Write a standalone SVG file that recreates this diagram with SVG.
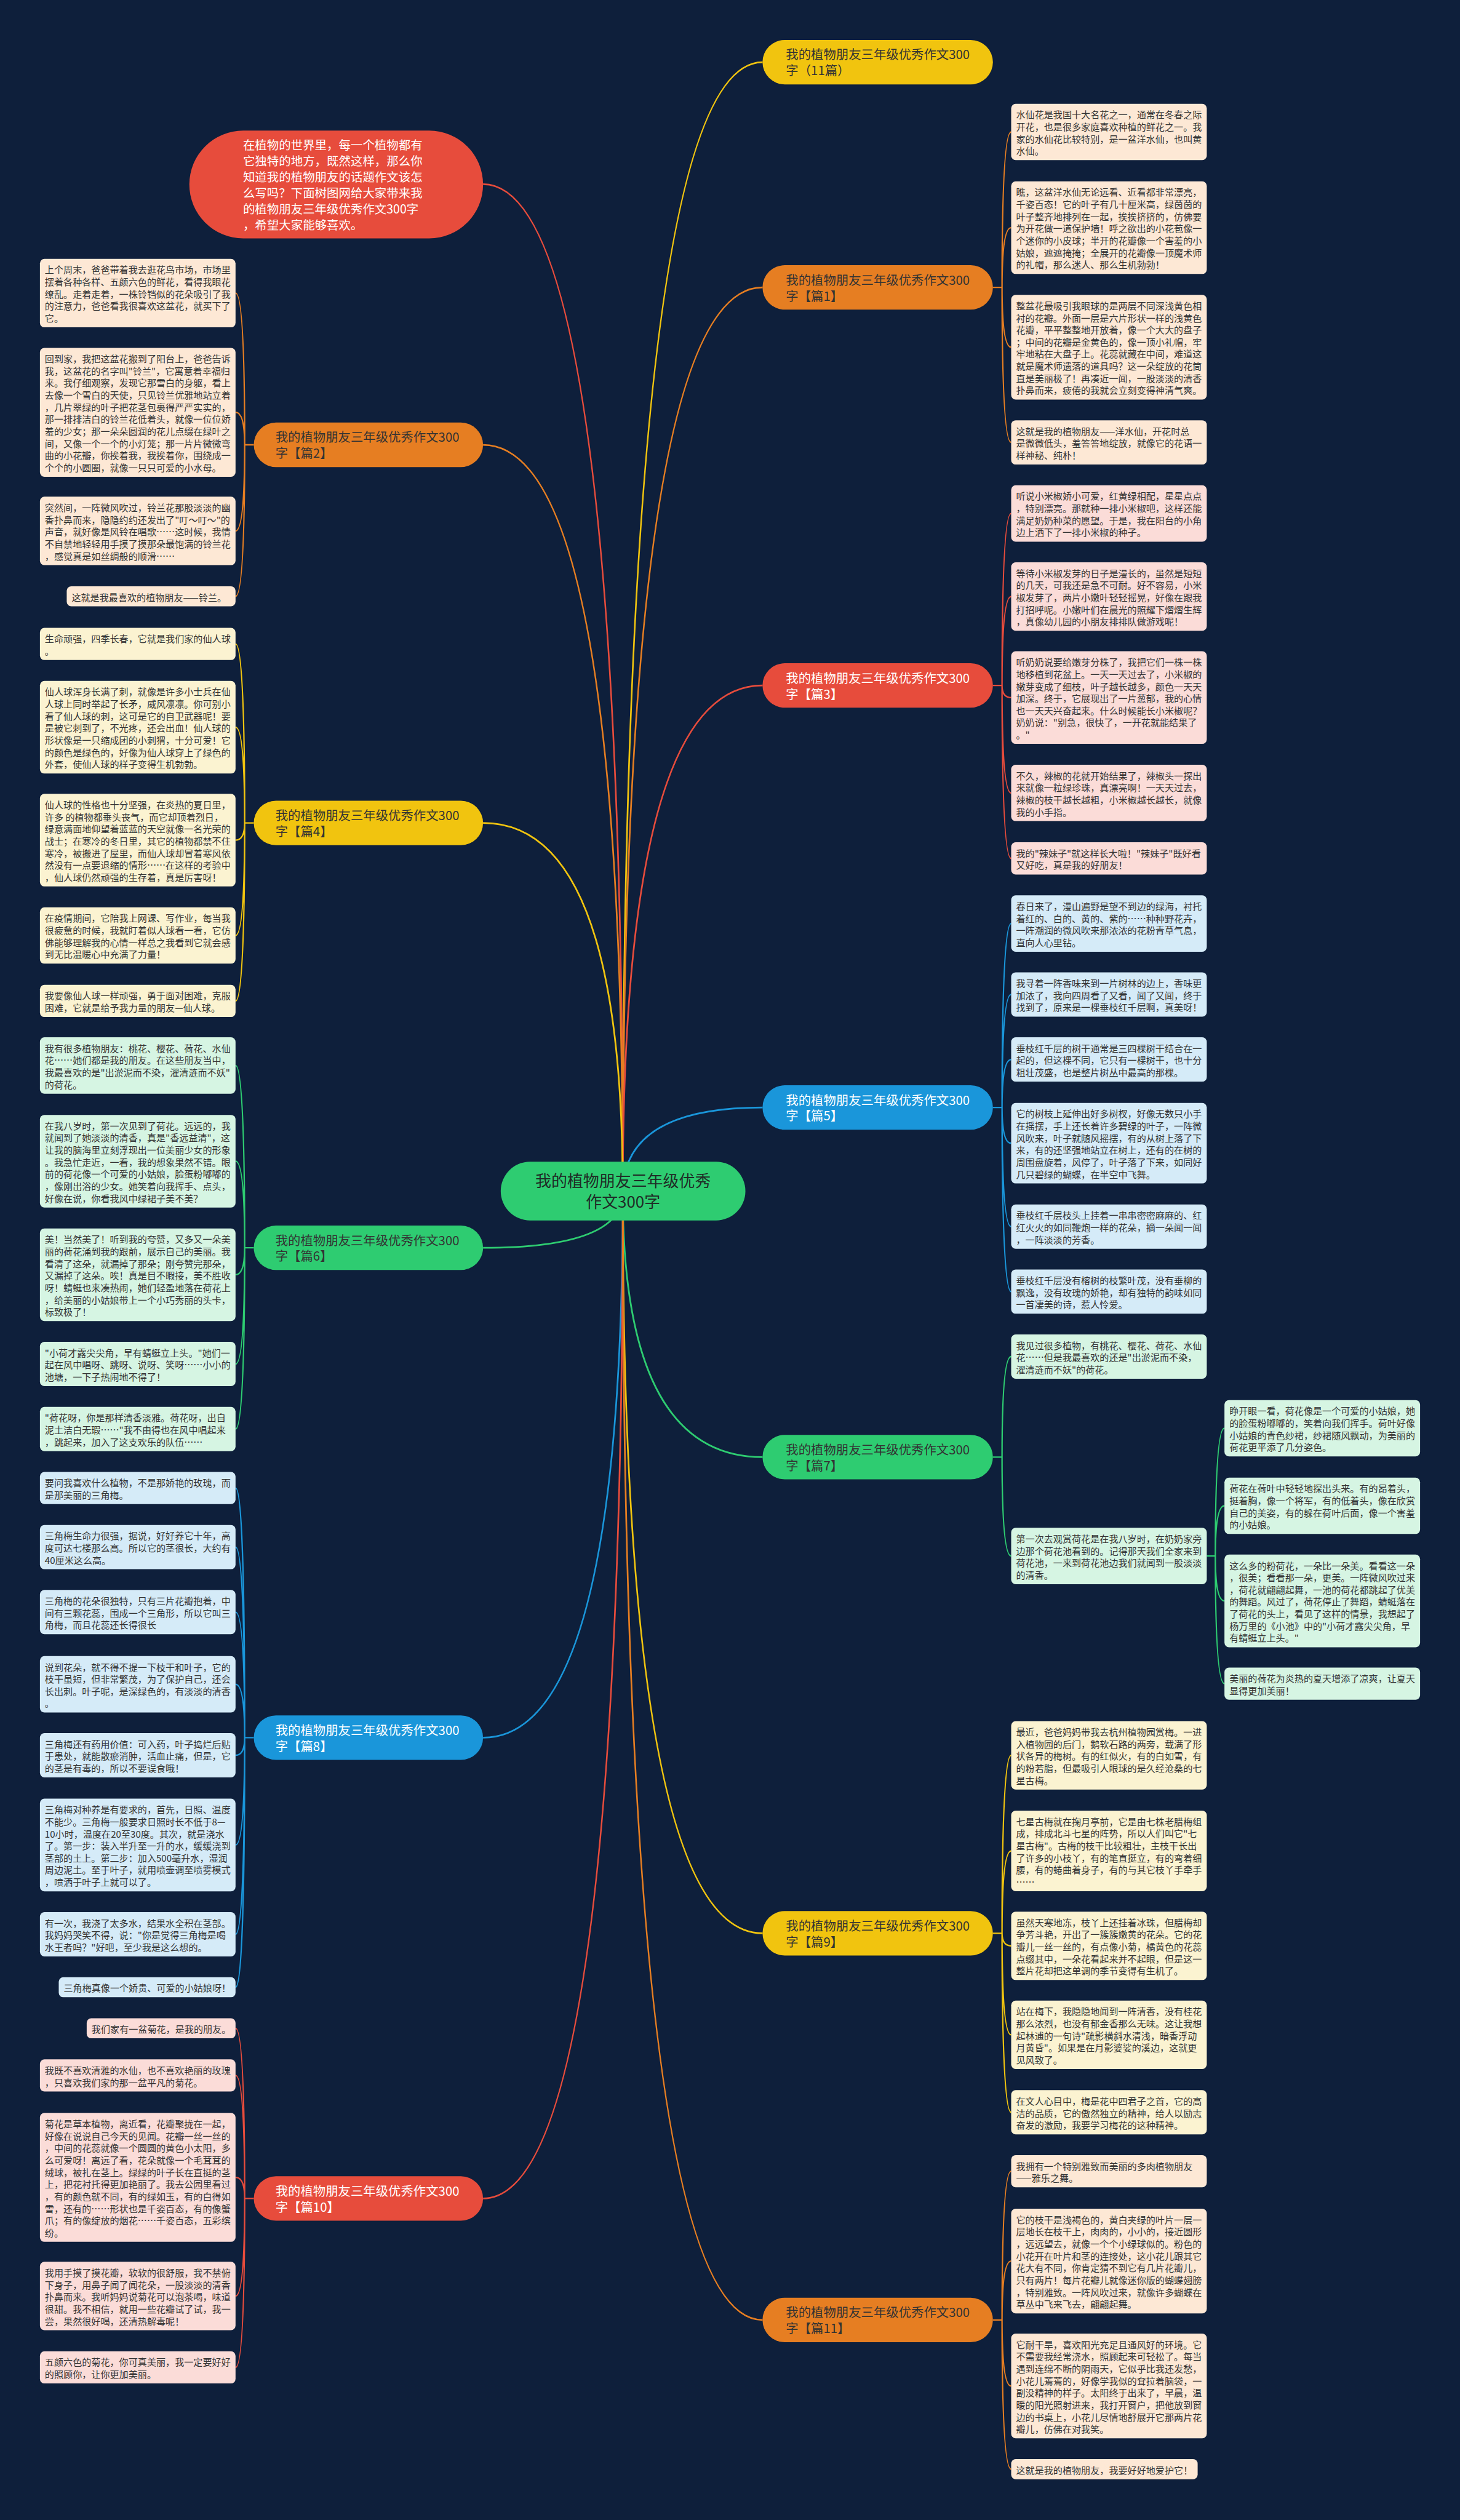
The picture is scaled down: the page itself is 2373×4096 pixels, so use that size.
<svg xmlns="http://www.w3.org/2000/svg" width="2373" height="4096" viewBox="0 0 2373 4096">
<style>
.t{font-family:"Noto Sans CJK SC","Noto Sans",sans-serif;font-size:16.3px;fill:#333}
.bt{font-family:"Noto Sans CJK SC","Noto Sans",sans-serif;font-size:22px}
.dk{fill:#333}
.wt{fill:#fff}
.c{fill:none;stroke-width:3}
.s{fill:none;stroke-width:2.5}
.Y{stroke:#f1c40f}.O{stroke:#e67e22}.R{stroke:#e74c3c}.B{stroke:#1a96da}.G{stroke:#2ecc71}
.fo{fill:#fde8d5}.fy{fill:#fbf3d1}.fr{fill:#fbdcd8}.fb{fill:#d5ebf8}.fg{fill:#d6f5e3}
.nY{fill:#f1c40f}.nO{fill:#e67e22}.nR{fill:#e74c3c}.nB{fill:#1a96da}.nG{fill:#2ecc71}
</style>
<rect width="2373" height="4096" fill="#0e1f3b"/>
<g transform="scale(0.92695)">
<g id="connectors">
<path class="c R" d="M1092 2092Q1092 323 847 323"/>
<path class="c Y" d="M1092 2092Q1092 109 1337 109"/>
<path class="c O" d="M1092 2092Q1092 504 1337 504"/>
<path class="c O" d="M1092 2092Q1092 780 847 780"/>
<path class="c R" d="M1092 2092Q1092 1202 1337 1202"/>
<path class="c Y" d="M1092 2092Q1092 1443 847 1443"/>
<path class="c B" d="M1092 2092Q1092 1942 1337 1942"/>
<path class="c G" d="M1092 2092Q1092 2188 847 2188"/>
<path class="c G" d="M1092 2092Q1092 2555 1337 2555"/>
<path class="c B" d="M1092 2092Q1092 3047 847 3047"/>
<path class="c Y" d="M1092 2092Q1092 3390 1337 3390"/>
<path class="c R" d="M1092 2092Q1092 3855 847 3855"/>
<path class="c O" d="M1092 2092Q1092 4068 1337 4068"/>
<path class="s O" d="M1741 504H1757M1757 504Q1757 231.4 1773 231.4M1757 504Q1757 399.2 1773 399.2M1757 504Q1757 608.8 1773 608.8M1757 504Q1757 775.8 1773 775.8"/>
<path class="s R" d="M1741 1202H1757M1757 1202Q1757 900.4 1773 900.4M1757 1202Q1757 1046 1773 1046M1757 1202Q1757 1223.2 1773 1223.2M1757 1202Q1757 1390.4 1773 1390.4M1757 1202Q1757 1505.2 1773 1505.2"/>
<path class="s B" d="M1741 1942H1757M1757 1942Q1757 1619.4 1773 1619.4M1757 1942Q1757 1743.8 1773 1743.8M1757 1942Q1757 1857.8 1773 1857.8M1757 1942Q1757 2004.6 1773 2004.6M1757 1942Q1757 2150.8 1773 2150.8M1757 1942Q1757 2264.8 1773 2264.8"/>
<path class="s G" d="M1741 2555H1757M1757 2555Q1757 2378.8 1773 2378.8M1757 2555Q1757 2728.4 1773 2728.4M2116 2728.4H2131M2131 2728.4Q2131 2504.4 2147 2504.4M2131 2728.4Q2131 2640.4 2147 2640.4M2131 2728.4Q2131 2807.2 2147 2807.2M2131 2728.4Q2131 2952.2 2147 2952.2"/>
<path class="s Y" d="M1741 3390H1757M1757 3390Q1757 3078 1773 3078M1757 3390Q1757 3245.6 1773 3245.6M1757 3390Q1757 3412 1773 3412M1757 3390Q1757 3568 1773 3568M1757 3390Q1757 3703.8 1773 3703.8"/>
<path class="s O" d="M1741 4068H1757M1757 4068Q1757 3807.2 1773 3807.2M1757 4068Q1757 3964.8 1773 3964.8M1757 4068Q1757 4183.8 1773 4183.8M1757 4068Q1757 4329.6 1773 4329.6"/>
<path class="s O" d="M445 780H429M429 780Q429 514 413 514M429 780Q429 723 413 723M429 780Q429 931 413 931M429 780Q429 1045.6 413 1045.6"/>
<path class="s Y" d="M445 1443H429M429 1443Q429 1129.2 413 1129.2M429 1443Q429 1275.2 413 1275.2M429 1443Q429 1473.2 413 1473.2M429 1443Q429 1640.4 413 1640.4M429 1443Q429 1755.2 413 1755.2"/>
<path class="s G" d="M445 2188H429M429 2188Q429 1868.4 413 1868.4M429 2188Q429 2036.2 413 2036.2M429 2188Q429 2235.2 413 2235.2M429 2188Q429 2391.8 413 2391.8M429 2188Q429 2505.8 413 2505.8"/>
<path class="s B" d="M445 3047H429M429 3047Q429 2609.2 413 2609.2M429 3047Q429 2712.8 413 2712.8M429 3047Q429 2826.8 413 2826.8M429 3047Q429 2953.4 413 2953.4M429 3047Q429 3077.8 413 3077.8M429 3047Q429 3235.2 413 3235.2M429 3047Q429 3391.8 413 3391.8M429 3047Q429 3484.6 413 3484.6"/>
<path class="s R" d="M445 3855H429M429 3855Q429 3556.6 413 3556.6M429 3855Q429 3639.2 413 3639.2M429 3855Q429 3818 413 3818M429 3855Q429 4026 413 4026M429 3855Q429 4151.2 413 4151.2"/>
</g>

<g id="center"><rect class="nG" x="878" y="2037" width="429" height="103" rx="51.5"/><text x="1092.5" y="2080.6" text-anchor="middle" style="font-family:'Noto Sans CJK SC',sans-serif;font-size:28px;fill:#1f2b26">我的植物朋友三年级优秀<tspan x="1092.5" dy="37">作文300字</tspan></text></g>

<g id="intro"><rect class="nR" x="332" y="229" width="515" height="189" rx="94.5"/><text x="426" y="262.4" style="font-family:'Noto Sans CJK SC',sans-serif;font-size:21px;fill:#fff">在植物的世界里，每一个植物都有<tspan x="426" dy="28.06">它独特的地方，既然这样，那么你</tspan><tspan x="426" dy="28.06">知道我的植物朋友的话题作文该怎</tspan><tspan x="426" dy="28.06">么写吗？下面树图网给大家带来我</tspan><tspan x="426" dy="28.06">的植物朋友三年级优秀作文300字</tspan><tspan x="426" dy="28.06">，希望大家能够喜欢。</tspan></text></g>

<g id="b-title"><rect class="nY" x="1337" y="70" width="404" height="78" rx="39"/><text class="bt dk" x="1378" y="104">我的植物朋友三年级优秀作文300<tspan x="1378" dy="28">字（11篇）</tspan></text></g>
<g id="b1"><rect class="nO" x="1337" y="465" width="404" height="78" rx="39"/><text class="bt dk" x="1378" y="499">我的植物朋友三年级优秀作文300<tspan x="1378" dy="28">字【篇1】</tspan></text></g>
<g id="b3"><rect class="nR" x="1337" y="1163" width="404" height="78" rx="39"/><text class="bt wt" x="1378" y="1197">我的植物朋友三年级优秀作文300<tspan x="1378" dy="28">字【篇3】</tspan></text></g>
<g id="b5"><rect class="nB" x="1337" y="1903" width="404" height="78" rx="39"/><text class="bt wt" x="1378" y="1937">我的植物朋友三年级优秀作文300<tspan x="1378" dy="28">字【篇5】</tspan></text></g>
<g id="b7"><rect class="nG" x="1337" y="2516" width="404" height="78" rx="39"/><text class="bt dk" x="1378" y="2550">我的植物朋友三年级优秀作文300<tspan x="1378" dy="28">字【篇7】</tspan></text></g>
<g id="b9"><rect class="nY" x="1337" y="3351" width="404" height="78" rx="39"/><text class="bt dk" x="1378" y="3385">我的植物朋友三年级优秀作文300<tspan x="1378" dy="28">字【篇9】</tspan></text></g>
<g id="b11"><rect class="nO" x="1337" y="4029" width="404" height="78" rx="39"/><text class="bt dk" x="1378" y="4063">我的植物朋友三年级优秀作文300<tspan x="1378" dy="28">字【篇11】</tspan></text></g>
<g id="b2"><rect class="nO" x="445" y="741" width="402" height="78" rx="39"/><text class="bt dk" x="483" y="775">我的植物朋友三年级优秀作文300<tspan x="483" dy="28">字【篇2】</tspan></text></g>
<g id="b4"><rect class="nY" x="445" y="1404" width="402" height="78" rx="39"/><text class="bt dk" x="483" y="1438">我的植物朋友三年级优秀作文300<tspan x="483" dy="28">字【篇4】</tspan></text></g>
<g id="b6"><rect class="nG" x="445" y="2149" width="402" height="78" rx="39"/><text class="bt dk" x="483" y="2183">我的植物朋友三年级优秀作文300<tspan x="483" dy="28">字【篇6】</tspan></text></g>
<g id="b8"><rect class="nB" x="445" y="3008" width="402" height="78" rx="39"/><text class="bt wt" x="483" y="3042">我的植物朋友三年级优秀作文300<tspan x="483" dy="28">字【篇8】</tspan></text></g>
<g id="b10"><rect class="nR" x="445" y="3816" width="402" height="78" rx="39"/><text class="bt wt" x="483" y="3850">我的植物朋友三年级优秀作文300<tspan x="483" dy="28">字【篇10】</tspan></text></g>

<g id="b1-1"><rect class="fo" x="1773" y="182" width="343" height="98.8" rx="8"/><text class="t" x="1781.6" y="207.5">水仙花是我国十大名花之一，通常在冬春之际<tspan x="1781.6" dy="21.2">开花，也是很多家庭喜欢种植的鲜花之一。我</tspan><tspan x="1781.6" dy="21.2">家的水仙花比较特别，是一盆洋水仙，也叫黄</tspan><tspan x="1781.6" dy="21.2">水仙。</tspan></text></g>
<g id="b1-2"><rect class="fo" x="1773" y="318" width="343" height="162.4" rx="8"/><text class="t" x="1781.6" y="343.5">瞧，这盆洋水仙无论远看、近看都非常漂亮，<tspan x="1781.6" dy="21.2">千姿百态！它的叶子有几十厘米高，绿茵茵的</tspan><tspan x="1781.6" dy="21.2">叶子整齐地排列在一起，挨挨挤挤的，仿佛要</tspan><tspan x="1781.6" dy="21.2">为开花做一道保护墙！呼之欲出的小花苞像一</tspan><tspan x="1781.6" dy="21.2">个迷你的小皮球；半开的花瓣像一个害羞的小</tspan><tspan x="1781.6" dy="21.2">姑娘，遮遮掩掩；全展开的花瓣像一顶魔术师</tspan><tspan x="1781.6" dy="21.2">的礼帽，那么迷人、那么生机勃勃！</tspan></text></g>
<g id="b1-3"><rect class="fo" x="1773" y="517" width="343" height="183.6" rx="8"/><text class="t" x="1781.6" y="542.5">整盆花最吸引我眼球的是两层不同深浅黄色相<tspan x="1781.6" dy="21.2">衬的花瓣。外面一层是六片形状一样的浅黄色</tspan><tspan x="1781.6" dy="21.2">花瓣，平平整整地开放着，像一个大大的盘子</tspan><tspan x="1781.6" dy="21.2">；中间的花瓣是金黄色的，像一顶小礼帽，牢</tspan><tspan x="1781.6" dy="21.2">牢地粘在大盘子上。花蕊就藏在中间，难道这</tspan><tspan x="1781.6" dy="21.2">就是魔术师遗落的道具吗？这一朵绽放的花筒</tspan><tspan x="1781.6" dy="21.2">直是美丽极了！再凑近一闻，一股淡淡的清香</tspan><tspan x="1781.6" dy="21.2">扑鼻而来，疲倦的我就会立刻变得神清气爽。</tspan></text></g>
<g id="b1-4"><rect class="fo" x="1773" y="737" width="343" height="77.6" rx="8"/><text class="t" x="1781.6" y="762.5">这就是我的植物朋友——洋水仙，开花时总<tspan x="1781.6" dy="21.2">是微微低头，羞答答地绽放，就像它的花语一</tspan><tspan x="1781.6" dy="21.2">样神秘、纯朴！</tspan></text></g>

<g id="b3-1"><rect class="fr" x="1773" y="851" width="343" height="98.8" rx="8"/><text class="t" x="1781.6" y="876.5">听说小米椒娇小可爱，红黄绿相配，星星点点<tspan x="1781.6" dy="21.2">，特别漂亮。那就种一排小米椒吧，这样还能</tspan><tspan x="1781.6" dy="21.2">满足奶奶种菜的愿望。于是，我在阳台的小角</tspan><tspan x="1781.6" dy="21.2">边上洒下了一排小米椒的种子。</tspan></text></g>
<g id="b3-2"><rect class="fr" x="1773" y="986" width="343" height="120" rx="8"/><text class="t" x="1781.6" y="1011.5">等待小米椒发芽的日子是漫长的，虽然是短短<tspan x="1781.6" dy="21.2">的几天，可我还是急不可耐。好不容易，小米</tspan><tspan x="1781.6" dy="21.2">椒发芽了，两片小嫩叶轻轻摇晃，好像在跟我</tspan><tspan x="1781.6" dy="21.2">打招呼呢。小嫩叶们在晨光的照耀下熠熠生辉</tspan><tspan x="1781.6" dy="21.2">，真像幼儿园的小朋友排排队做游戏呢！</tspan></text></g>
<g id="b3-3"><rect class="fr" x="1773" y="1142" width="343" height="162.4" rx="8"/><text class="t" x="1781.6" y="1167.5">听奶奶说要给嫩芽分株了，我把它们一株一株<tspan x="1781.6" dy="21.2">地移植到花盆上。一天一天过去了，小米椒的</tspan><tspan x="1781.6" dy="21.2">嫩芽变成了细枝，叶子越长越多，颜色一天天</tspan><tspan x="1781.6" dy="21.2">加深。终于，它展现出了一片葱郁，我的心情</tspan><tspan x="1781.6" dy="21.2">也一天天兴奋起来。什么时候能长小米椒呢？</tspan><tspan x="1781.6" dy="21.2">奶奶说："别急，很快了，一开花就能结果了</tspan><tspan x="1781.6" dy="21.2">。"</tspan></text></g>
<g id="b3-4"><rect class="fr" x="1773" y="1341" width="343" height="98.8" rx="8"/><text class="t" x="1781.6" y="1366.5">不久，辣椒的花就开始结果了，辣椒头一探出<tspan x="1781.6" dy="21.2">来就像一粒绿珍珠，真漂亮啊！一天天过去，</tspan><tspan x="1781.6" dy="21.2">辣椒的枝干越长越粗，小米椒越长越长，就像</tspan><tspan x="1781.6" dy="21.2">我的小手指。</tspan></text></g>
<g id="b3-5"><rect class="fr" x="1773" y="1477" width="343" height="56.4" rx="8"/><text class="t" x="1781.6" y="1502.5">我的"辣妹子"就这样长大啦！"辣妹子"既好看<tspan x="1781.6" dy="21.2">又好吃，真是我的好朋友！</tspan></text></g>

<g id="b5-1"><rect class="fb" x="1773" y="1570" width="343" height="98.8" rx="8"/><text class="t" x="1781.6" y="1595.5">春日来了，漫山遍野是望不到边的绿海，衬托<tspan x="1781.6" dy="21.2">着红的、白的、黄的、紫的……种种野花卉，</tspan><tspan x="1781.6" dy="21.2">一阵潮润的微风吹来那浓浓的花粉青草气息，</tspan><tspan x="1781.6" dy="21.2">直向人心里钻。</tspan></text></g>
<g id="b5-2"><rect class="fb" x="1773" y="1705" width="343" height="77.6" rx="8"/><text class="t" x="1781.6" y="1730.5">我寻着一阵香味来到一片树林的边上，香味更<tspan x="1781.6" dy="21.2">加浓了，我向四周看了又看，闻了又闻，终于</tspan><tspan x="1781.6" dy="21.2">找到了，原来是一棵垂枝红千层啊，真美呀！</tspan></text></g>
<g id="b5-3"><rect class="fb" x="1773" y="1819" width="343" height="77.6" rx="8"/><text class="t" x="1781.6" y="1844.5">垂枝红千层的树干通常是三四棵树干结合在一<tspan x="1781.6" dy="21.2">起的，但这棵不同，它只有一棵树干，也十分</tspan><tspan x="1781.6" dy="21.2">粗壮茂盛，也是整片树丛中最高的那棵。</tspan></text></g>
<g id="b5-4"><rect class="fb" x="1773" y="1934" width="343" height="141.2" rx="8"/><text class="t" x="1781.6" y="1959.5">它的树枝上延伸出好多树杈，好像无数只小手<tspan x="1781.6" dy="21.2">在摇摆，手上还长着许多碧绿的叶子，一阵微</tspan><tspan x="1781.6" dy="21.2">风吹来，叶子就随风摇摆，有的从树上落了下</tspan><tspan x="1781.6" dy="21.2">来，有的还坚强地站立在树上，还有的在树的</tspan><tspan x="1781.6" dy="21.2">周围盘旋着，风停了，叶子落了下来，如同好</tspan><tspan x="1781.6" dy="21.2">几只碧绿的蝴蝶，在半空中飞舞。</tspan></text></g>
<g id="b5-5"><rect class="fb" x="1773" y="2112" width="343" height="77.6" rx="8"/><text class="t" x="1781.6" y="2137.5">垂枝红千层枝头上挂着一串串密密麻麻的、红<tspan x="1781.6" dy="21.2">红火火的如同鞭炮一样的花朵，摘一朵闻一闻</tspan><tspan x="1781.6" dy="21.2">，一阵淡淡的芳香。</tspan></text></g>
<g id="b5-6"><rect class="fb" x="1773" y="2226" width="343" height="77.6" rx="8"/><text class="t" x="1781.6" y="2251.5">垂枝红千层没有榕树的枝繁叶茂，没有垂柳的<tspan x="1781.6" dy="21.2">飘逸，没有玫瑰的娇艳，却有独特的韵味如同</tspan><tspan x="1781.6" dy="21.2">一首凄美的诗，惹人怜爱。</tspan></text></g>

<g id="b7-1"><rect class="fg" x="1773" y="2340" width="343" height="77.6" rx="8"/><text class="t" x="1781.6" y="2365.5">我见过很多植物，有桃花、樱花、荷花、水仙<tspan x="1781.6" dy="21.2">花……但是我最喜欢的还是"出淤泥而不染，</tspan><tspan x="1781.6" dy="21.2">濯清涟而不妖"的荷花。</tspan></text></g>
<g id="b7-2"><rect class="fg" x="1773" y="2679" width="343" height="98.8" rx="8"/><text class="t" x="1781.6" y="2704.5">第一次去观赏荷花是在我八岁时，在奶奶家旁<tspan x="1781.6" dy="21.2">边那个荷花池看到的。记得那天我们全家来到</tspan><tspan x="1781.6" dy="21.2">荷花池，一来到荷花池边我们就闻到一股淡淡</tspan><tspan x="1781.6" dy="21.2">的清香。</tspan></text></g>
<g id="b7-2-1"><rect class="fg" x="2147" y="2455" width="343" height="98.8" rx="8"/><text class="t" x="2155.6" y="2480.5">睁开眼一看，荷花像是一个可爱的小姑娘，她<tspan x="2155.6" dy="21.2">的脸蛋粉嘟嘟的，笑着向我们挥手。荷叶好像</tspan><tspan x="2155.6" dy="21.2">小姑娘的青色纱裙，纱裙随风飘动，为美丽的</tspan><tspan x="2155.6" dy="21.2">荷花更平添了几分姿色。</tspan></text></g>
<g id="b7-2-2"><rect class="fg" x="2147" y="2591" width="343" height="98.8" rx="8"/><text class="t" x="2155.6" y="2616.5">荷花在荷叶中轻轻地探出头来。有的昂着头，<tspan x="2155.6" dy="21.2">挺着胸，像一个将军，有的低着头，像在欣赏</tspan><tspan x="2155.6" dy="21.2">自己的美姿，有的躲在荷叶后面，像一个害羞</tspan><tspan x="2155.6" dy="21.2">的小姑娘。</tspan></text></g>
<g id="b7-2-3"><rect class="fg" x="2147" y="2726" width="343" height="162.4" rx="8"/><text class="t" x="2155.6" y="2751.5">这么多的粉荷花，一朵比一朵美。看看这一朵<tspan x="2155.6" dy="21.2">，很美；看看那一朵，更美。一阵微风吹过来</tspan><tspan x="2155.6" dy="21.2">，荷花就翩翩起舞，一池的荷花都跳起了优美</tspan><tspan x="2155.6" dy="21.2">的舞蹈。风过了，荷花停止了舞蹈，蜻蜓落在</tspan><tspan x="2155.6" dy="21.2">了荷花的头上，看见了这样的情景，我想起了</tspan><tspan x="2155.6" dy="21.2">杨万里的《小池》中的"小荷才露尖尖角，早</tspan><tspan x="2155.6" dy="21.2">有蜻蜓立上头。"</tspan></text></g>
<g id="b7-2-4"><rect class="fg" x="2147" y="2924" width="343" height="56.4" rx="8"/><text class="t" x="2155.6" y="2949.5">美丽的荷花为炎热的夏天增添了凉爽，让夏天<tspan x="2155.6" dy="21.2">显得更加美丽！</tspan></text></g>

<g id="b9-1"><rect class="fy" x="1773" y="3018" width="343" height="120" rx="8"/><text class="t" x="1781.6" y="3043.5">最近，爸爸妈妈带我去杭州植物园赏梅。一进<tspan x="1781.6" dy="21.2">入植物园的后门，鹅软石路的两旁，载满了形</tspan><tspan x="1781.6" dy="21.2">状各异的梅树。有的红似火，有的白如雪，有</tspan><tspan x="1781.6" dy="21.2">的粉若脂，但最吸引人眼球的是久经沧桑的七</tspan><tspan x="1781.6" dy="21.2">星古梅。</tspan></text></g>
<g id="b9-2"><rect class="fy" x="1773" y="3175" width="343" height="141.2" rx="8"/><text class="t" x="1781.6" y="3200.5">七星古梅就在掬月亭前，它是由七株老腊梅组<tspan x="1781.6" dy="21.2">成，排成北斗七星的阵势，所以人们叫它"七</tspan><tspan x="1781.6" dy="21.2">星古梅"。古梅的枝干比较粗壮，主枝干长出</tspan><tspan x="1781.6" dy="21.2">了许多的小枝丫，有的笔直挺立，有的弯着细</tspan><tspan x="1781.6" dy="21.2">腰，有的蜷曲着身子，有的与其它枝丫手牵手</tspan><tspan x="1781.6" dy="21.2">……</tspan></text></g>
<g id="b9-3"><rect class="fy" x="1773" y="3352" width="343" height="120" rx="8"/><text class="t" x="1781.6" y="3377.5">虽然天寒地冻，枝丫上还挂着冰珠，但腊梅却<tspan x="1781.6" dy="21.2">争芳斗艳，开出了一簇簇嫩黄的花朵。它的花</tspan><tspan x="1781.6" dy="21.2">瓣儿一丝一丝的，有点像小菊，橘黄色的花蕊</tspan><tspan x="1781.6" dy="21.2">点缀其中，一朵花看起来并不起眼，但是这一</tspan><tspan x="1781.6" dy="21.2">整片花却把这单调的季节变得有生机了。</tspan></text></g>
<g id="b9-4"><rect class="fy" x="1773" y="3508" width="343" height="120" rx="8"/><text class="t" x="1781.6" y="3533.5">站在梅下，我隐隐地闻到一阵清香，没有桂花<tspan x="1781.6" dy="21.2">那么浓烈，也没有郁金香那么无味。这让我想</tspan><tspan x="1781.6" dy="21.2">起林逋的一句诗"疏影横斜水清浅，暗香浮动</tspan><tspan x="1781.6" dy="21.2">月黄昏"。如果是在月影婆娑的溪边，这就更</tspan><tspan x="1781.6" dy="21.2">见风致了。</tspan></text></g>
<g id="b9-5"><rect class="fy" x="1773" y="3665" width="343" height="77.6" rx="8"/><text class="t" x="1781.6" y="3690.5">在文人心目中，梅是花中四君子之首，它的高<tspan x="1781.6" dy="21.2">洁的品质，它的傲然独立的精神，给人以励志</tspan><tspan x="1781.6" dy="21.2">奋发的激励，我要学习梅花的这种精神。</tspan></text></g>

<g id="b11-1"><rect class="fo" x="1773" y="3779" width="343" height="56.4" rx="8"/><text class="t" x="1781.6" y="3804.5">我拥有一个特别雅致而美丽的多肉植物朋友<tspan x="1781.6" dy="21.2">——雅乐之舞。</tspan></text></g>
<g id="b11-2"><rect class="fo" x="1773" y="3873" width="343" height="183.6" rx="8"/><text class="t" x="1781.6" y="3898.5">它的枝干是浅褐色的，黄白夹绿的叶片一层一<tspan x="1781.6" dy="21.2">层地长在枝干上，肉肉的，小小的，接近圆形</tspan><tspan x="1781.6" dy="21.2">，远远望去，就像一个个小绿球似的。粉色的</tspan><tspan x="1781.6" dy="21.2">小花开在叶片和茎的连接处，这小花儿跟其它</tspan><tspan x="1781.6" dy="21.2">花大有不同，你肯定猜不到它有几片花瓣儿，</tspan><tspan x="1781.6" dy="21.2">只有两片！每片花瓣儿就像迷你版的蝴蝶翅膀</tspan><tspan x="1781.6" dy="21.2">，特别雅致。一阵风吹过来，就像许多蝴蝶在</tspan><tspan x="1781.6" dy="21.2">草丛中飞来飞去，翩翩起舞。</tspan></text></g>
<g id="b11-3"><rect class="fo" x="1773" y="4092" width="343" height="183.6" rx="8"/><text class="t" x="1781.6" y="4117.5">它耐干旱，喜欢阳光充足且通风好的环境。它<tspan x="1781.6" dy="21.2">不需要我经常浇水，照顾起来可轻松了。每当</tspan><tspan x="1781.6" dy="21.2">遇到连绵不断的阴雨天，它似乎比我还发愁，</tspan><tspan x="1781.6" dy="21.2">小花儿蔫蔫的，好像学我似的耷拉着脑袋，一</tspan><tspan x="1781.6" dy="21.2">副没精神的样子。太阳终于出来了，早晨，温</tspan><tspan x="1781.6" dy="21.2">暖的阳光照射进来，我打开窗户，把他放到窗</tspan><tspan x="1781.6" dy="21.2">边的书桌上，小花儿尽情地舒展开它那两片花</tspan><tspan x="1781.6" dy="21.2">瓣儿，仿佛在对我笑。</tspan></text></g>
<g id="b11-4"><rect class="fo" x="1773" y="4312" width="327" height="35.2" rx="8"/><text class="t" x="1781.6" y="4337.5">这就是我的植物朋友，我要好好地爱护它！</text></g>

<g id="b2-1"><rect class="fo" x="70" y="454" width="343" height="120" rx="8"/><text class="t" x="78.6" y="479.5">上个周末，爸爸带着我去逛花鸟市场，市场里<tspan x="78.6" dy="21.2">摆着各种各样、五颜六色的鲜花，看得我眼花</tspan><tspan x="78.6" dy="21.2">缭乱。走着走着，一株铃铛似的花朵吸引了我</tspan><tspan x="78.6" dy="21.2">的注意力，爸爸看我很喜欢这盆花，就买下了</tspan><tspan x="78.6" dy="21.2">它。</tspan></text></g>
<g id="b2-2"><rect class="fo" x="70" y="610" width="343" height="226" rx="8"/><text class="t" x="78.6" y="635.5">回到家，我把这盆花搬到了阳台上，爸爸告诉<tspan x="78.6" dy="21.2">我，这盆花的名字叫"铃兰"，它寓意着幸福归</tspan><tspan x="78.6" dy="21.2">来。我仔细观察，发现它那雪白的身躯，看上</tspan><tspan x="78.6" dy="21.2">去像一个雪白的天使，只见铃兰优雅地站立着</tspan><tspan x="78.6" dy="21.2">，几片翠绿的叶子把花茎包裹得严严实实的，</tspan><tspan x="78.6" dy="21.2">那一排排洁白的铃兰花低着头，就像一位位娇</tspan><tspan x="78.6" dy="21.2">羞的少女；那一朵朵圆润的花儿点缀在绿叶之</tspan><tspan x="78.6" dy="21.2">间，又像一个一个的小灯笼；那一片片微微弯</tspan><tspan x="78.6" dy="21.2">曲的小花瓣，你挨着我，我挨着你，围绕成一</tspan><tspan x="78.6" dy="21.2">个个的小圆圈，就像一只只可爱的小水母。</tspan></text></g>
<g id="b2-3"><rect class="fo" x="70" y="871" width="343" height="120" rx="8"/><text class="t" x="78.6" y="896.5">突然间，一阵微风吹过，铃兰花那股淡淡的幽<tspan x="78.6" dy="21.2">香扑鼻而来，隐隐约约还发出了"叮～叮～"的</tspan><tspan x="78.6" dy="21.2">声音，就好像是风铃在唱歌……这时候，我情</tspan><tspan x="78.6" dy="21.2">不自禁地轻轻用手摸了摸那朵最饱满的铃兰花</tspan><tspan x="78.6" dy="21.2">，感觉真是如丝绸般的顺滑……</tspan></text></g>
<g id="b2-4"><rect class="fo" x="117" y="1028" width="296" height="35.2" rx="8"/><text class="t" x="125.6" y="1053.5">这就是我最喜欢的植物朋友——铃兰。</text></g>

<g id="b4-1"><rect class="fy" x="70" y="1101" width="343" height="56.4" rx="8"/><text class="t" x="78.6" y="1126.5">生命顽强，四季长春，它就是我们家的仙人球<tspan x="78.6" dy="21.2">。</tspan></text></g>
<g id="b4-2"><rect class="fy" x="70" y="1194" width="343" height="162.4" rx="8"/><text class="t" x="78.6" y="1219.5">仙人球浑身长满了刺，就像是许多小士兵在仙<tspan x="78.6" dy="21.2">人球上同时举起了长矛，威风凛凛。你可别小</tspan><tspan x="78.6" dy="21.2">看了仙人球的刺，这可是它的自卫武器呢！要</tspan><tspan x="78.6" dy="21.2">是被它刺到了，不光疼，还会出血！仙人球的</tspan><tspan x="78.6" dy="21.2">形状像是一只缩成团的小刺猬，十分可爱！它</tspan><tspan x="78.6" dy="21.2">的颜色是绿色的，好像为仙人球穿上了绿色的</tspan><tspan x="78.6" dy="21.2">外套，使仙人球的样子变得生机勃勃。</tspan></text></g>
<g id="b4-3"><rect class="fy" x="70" y="1392" width="343" height="162.4" rx="8"/><text class="t" x="78.6" y="1417.5">仙人球的性格也十分坚强，在炎热的夏日里，<tspan x="78.6" dy="21.2">许多 的植物都垂头丧气，而它却顶着烈日，</tspan><tspan x="78.6" dy="21.2">绿意满面地仰望着蓝蓝的天空就像一名光荣的</tspan><tspan x="78.6" dy="21.2">战士；在寒冷的冬日里，其它的植物都禁不住</tspan><tspan x="78.6" dy="21.2">寒冷，被搬进了屋里，而仙人球却冒着寒风依</tspan><tspan x="78.6" dy="21.2">然没有一点要退缩的情形……在这样的考验中</tspan><tspan x="78.6" dy="21.2">，仙人球仍然顽强的生存着，真是厉害呀！</tspan></text></g>
<g id="b4-4"><rect class="fy" x="70" y="1591" width="343" height="98.8" rx="8"/><text class="t" x="78.6" y="1616.5">在疫情期间，它陪我上网课、写作业，每当我<tspan x="78.6" dy="21.2">很疲惫的时候，我就盯着似人球看一看，它仿</tspan><tspan x="78.6" dy="21.2">佛能够理解我的心情一样总之我看到它就会感</tspan><tspan x="78.6" dy="21.2">到无比温暖心中充满了力量！</tspan></text></g>
<g id="b4-5"><rect class="fy" x="70" y="1727" width="343" height="56.4" rx="8"/><text class="t" x="78.6" y="1752.5">我要像仙人球一样顽强，勇于面对困难，克服<tspan x="78.6" dy="21.2">困难，它就是给予我力量的朋友—仙人球。</tspan></text></g>

<g id="b6-1"><rect class="fg" x="70" y="1819" width="343" height="98.8" rx="8"/><text class="t" x="78.6" y="1844.5">我有很多植物朋友：桃花、樱花、荷花、水仙<tspan x="78.6" dy="21.2">花……她们都是我的朋友。在这些朋友当中，</tspan><tspan x="78.6" dy="21.2">我最喜欢的是"出淤泥而不染，濯清涟而不妖"</tspan><tspan x="78.6" dy="21.2">的荷花。</tspan></text></g>
<g id="b6-2"><rect class="fg" x="70" y="1955" width="343" height="162.4" rx="8"/><text class="t" x="78.6" y="1980.5">在我八岁时，第一次见到了荷花。远远的，我<tspan x="78.6" dy="21.2">就闻到了她淡淡的清香，真是"香远益清"，这</tspan><tspan x="78.6" dy="21.2">让我的脑海里立刻浮现出一位美丽少女的形象</tspan><tspan x="78.6" dy="21.2">。我急忙走近，一看，我的想象果然不错。眼</tspan><tspan x="78.6" dy="21.2">前的荷花像一个可爱的小姑娘，脸蛋粉嘟嘟的</tspan><tspan x="78.6" dy="21.2">，像刚出浴的少女。她笑着向我挥手、点头，</tspan><tspan x="78.6" dy="21.2">好像在说，你看我风中绿裙子美不美？</tspan></text></g>
<g id="b6-3"><rect class="fg" x="70" y="2154" width="343" height="162.4" rx="8"/><text class="t" x="78.6" y="2179.5">美！当然美了！听到我的夸赞，又多又一朵美<tspan x="78.6" dy="21.2">丽的荷花涌到我的跟前，展示自己的美丽。我</tspan><tspan x="78.6" dy="21.2">看清了这朵，就漏掉了那朵；刚夸赞完那朵，</tspan><tspan x="78.6" dy="21.2">又漏掉了这朵。唉！真是目不暇接，美不胜收</tspan><tspan x="78.6" dy="21.2">呀！蜻蜓也来凑热闹，她们轻盈地落在荷花上</tspan><tspan x="78.6" dy="21.2">，给美丽的小姑娘带上一个小巧秀丽的头卡，</tspan><tspan x="78.6" dy="21.2">标致极了！</tspan></text></g>
<g id="b6-4"><rect class="fg" x="70" y="2353" width="343" height="77.6" rx="8"/><text class="t" x="78.6" y="2378.5">"小荷才露尖尖角，早有蜻蜓立上头。"她们一<tspan x="78.6" dy="21.2">起在风中唱呀、跳呀、说呀、笑呀……小小的</tspan><tspan x="78.6" dy="21.2">池塘，一下子热闹地不得了！</tspan></text></g>
<g id="b6-5"><rect class="fg" x="70" y="2467" width="343" height="77.6" rx="8"/><text class="t" x="78.6" y="2492.5">"荷花呀，你是那样清香淡雅。荷花呀，出自<tspan x="78.6" dy="21.2">泥土洁白无瑕……"我不由得也在风中唱起来</tspan><tspan x="78.6" dy="21.2">，跳起来，加入了这支欢乐的队伍……</tspan></text></g>

<g id="b8-1"><rect class="fb" x="70" y="2581" width="343" height="56.4" rx="8"/><text class="t" x="78.6" y="2606.5">要问我喜欢什么植物，不是那娇艳的玫瑰，而<tspan x="78.6" dy="21.2">是那美丽的三角梅。</tspan></text></g>
<g id="b8-2"><rect class="fb" x="70" y="2674" width="343" height="77.6" rx="8"/><text class="t" x="78.6" y="2699.5">三角梅生命力很强，据说，好好养它十年，高<tspan x="78.6" dy="21.2">度可达七楼那么高。所以它的茎很长，大约有</tspan><tspan x="78.6" dy="21.2">40厘米这么高。</tspan></text></g>
<g id="b8-3"><rect class="fb" x="70" y="2788" width="343" height="77.6" rx="8"/><text class="t" x="78.6" y="2813.5">三角梅的花朵很独特，只有三片花瓣抱着，中<tspan x="78.6" dy="21.2">间有三颗花蕊，围成一个三角形，所以它叫三</tspan><tspan x="78.6" dy="21.2">角梅，而且花蕊还长得很长</tspan></text></g>
<g id="b8-4"><rect class="fb" x="70" y="2904" width="343" height="98.8" rx="8"/><text class="t" x="78.6" y="2929.5">说到花朵，就不得不提一下枝干和叶子，它的<tspan x="78.6" dy="21.2">枝干虽短，但非常繁茂，为了保护自己，还会</tspan><tspan x="78.6" dy="21.2">长出刺。叶子呢，是深绿色的，有淡淡的清香</tspan><tspan x="78.6" dy="21.2">。</tspan></text></g>
<g id="b8-5"><rect class="fb" x="70" y="3039" width="343" height="77.6" rx="8"/><text class="t" x="78.6" y="3064.5">三角梅还有药用价值：可入药，叶子捣烂后贴<tspan x="78.6" dy="21.2">于患处，就能散瘀消肿，活血止痛，但是，它</tspan><tspan x="78.6" dy="21.2">的茎是有毒的，所以不要误食哦！</tspan></text></g>
<g id="b8-6"><rect class="fb" x="70" y="3154" width="343" height="162.4" rx="8"/><text class="t" x="78.6" y="3179.5">三角梅对种养是有要求的，首先，日照、温度<tspan x="78.6" dy="21.2">不能少。三角梅一般要求日照时长不低于8—</tspan><tspan x="78.6" dy="21.2">10小时，温度在20至30度。其次，就是浇水</tspan><tspan x="78.6" dy="21.2">了。第一步：装入半升至一升的水，缓缓浇到</tspan><tspan x="78.6" dy="21.2">茎部的土上。第二步：加入500毫升水，湿润</tspan><tspan x="78.6" dy="21.2">周边泥土。至于叶子，就用喷壶调至喷雾模式</tspan><tspan x="78.6" dy="21.2">，喷洒于叶子上就可以了。</tspan></text></g>
<g id="b8-7"><rect class="fb" x="70" y="3353" width="343" height="77.6" rx="8"/><text class="t" x="78.6" y="3378.5">有一次，我浇了太多水，结果水全积在茎部。<tspan x="78.6" dy="21.2">我妈妈哭笑不得，说："你是觉得三角梅是喝</tspan><tspan x="78.6" dy="21.2">水王者吗？"好吧，至少我是这么想的。</tspan></text></g>
<g id="b8-8"><rect class="fb" x="103" y="3467" width="310" height="35.2" rx="8"/><text class="t" x="111.6" y="3492.5">三角梅真像一个娇贵、可爱的小姑娘呀！</text></g>

<g id="b10-1"><rect class="fr" x="152" y="3539" width="261" height="35.2" rx="8"/><text class="t" x="160.6" y="3564.5">我们家有一盆菊花，是我的朋友。</text></g>
<g id="b10-2"><rect class="fr" x="70" y="3611" width="343" height="56.4" rx="8"/><text class="t" x="78.6" y="3636.5">我既不喜欢清雅的水仙，也不喜欢艳丽的玫瑰<tspan x="78.6" dy="21.2">，只喜欢我们家的那一盆平凡的菊花。</tspan></text></g>
<g id="b10-3"><rect class="fr" x="70" y="3705" width="343" height="226" rx="8"/><text class="t" x="78.6" y="3730.5">菊花是草本植物，离近看，花瓣聚拢在一起，<tspan x="78.6" dy="21.2">好像在说说自己今天的见闻。花瓣一丝一丝的</tspan><tspan x="78.6" dy="21.2">，中间的花蕊就像一个圆圆的黄色小太阳，多</tspan><tspan x="78.6" dy="21.2">么可爱呀！离远了看，花朵就像一个毛茸茸的</tspan><tspan x="78.6" dy="21.2">绒球，被扎在茎上。绿绿的叶子长在直挺的茎</tspan><tspan x="78.6" dy="21.2">上，把花衬托得更加艳丽了。我去公园里看过</tspan><tspan x="78.6" dy="21.2">，有的颜色就不同，有的绿如玉，有的白得如</tspan><tspan x="78.6" dy="21.2">雪，还有的……形状也是千姿百态，有的像蟹</tspan><tspan x="78.6" dy="21.2">爪；有的像绽放的烟花……千姿百态，五彩缤</tspan><tspan x="78.6" dy="21.2">纷。</tspan></text></g>
<g id="b10-4"><rect class="fr" x="70" y="3966" width="343" height="120" rx="8"/><text class="t" x="78.6" y="3991.5">我用手摸了摸花瓣，软软的很舒服，我不禁俯<tspan x="78.6" dy="21.2">下身子，用鼻子闻了闻花朵，一股淡淡的清香</tspan><tspan x="78.6" dy="21.2">扑鼻而来。我听妈妈说菊花可以泡茶喝，味道</tspan><tspan x="78.6" dy="21.2">很甜。我不相信，就用一些花瓣试了试，我一</tspan><tspan x="78.6" dy="21.2">尝，果然很好喝，还清热解毒呢！</tspan></text></g>
<g id="b10-5"><rect class="fr" x="70" y="4123" width="343" height="56.4" rx="8"/><text class="t" x="78.6" y="4148.5">五颜六色的菊花，你可真美丽，我一定要好好<tspan x="78.6" dy="21.2">的照顾你，让你更加美丽。</tspan></text></g>
</g>
</svg>
